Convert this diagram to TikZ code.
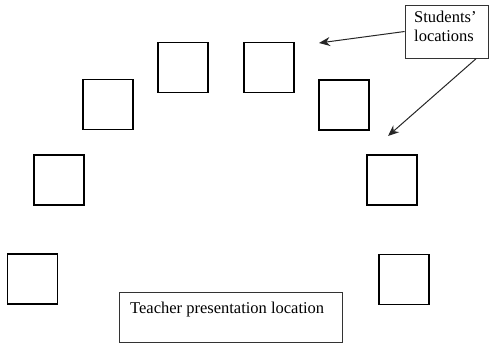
\documentclass[tikz,border=0pt]{standalone}
\usepackage{fontspec}
\setmainfont{Liberation Serif}
\usetikzlibrary{arrows.meta,calc}
\begin{document}
\begin{tikzpicture}[x=1pt,y=-1pt,
  seat/.style={draw=black,line width=1.1pt,minimum width=50pt,minimum height=50pt,inner sep=0pt},
  labelbox/.style={draw=black!80,line width=0.8pt,inner sep=0pt},
  pointer/.style={draw=black!85,line width=1pt,-{Stealth[length=11pt,width=9pt]}},
  lbl/.style={font=\fontsize{16.5}{18.5}\selectfont,inner sep=0pt,align=left}]
\useasboundingbox (0,0) rectangle (490,343);
% student seats
\node[seat] (sA) at (183,67.5) {};
\node[seat] (sB) at (269,67.5) {};
\node[seat] (sC) at (108,104.5) {};
\node[seat] (sD) at (344,105) {};
\node[seat] (sE) at (59,180) {};
\node[seat] (sF) at (392,180) {};
\node[seat] (sG) at (32.5,279) {};
\node[seat] (sH) at (404,279.5) {};
% teacher box
\node[labelbox,minimum width=223pt,minimum height=50pt] (tb) at (230.5,317) {};
\node[lbl,anchor=base west] (tt) at (130,313) {Teacher presentation location};
% students label box
\node[labelbox,minimum width=83pt,minimum height=53pt] (sb) at (446.5,31.5) {};
\node[lbl,anchor=north west] (st) at (414,11) {Students’\\locations};
% pointers
\coordinate (p1) at (319,43);
\coordinate (p2) at (388,136);
\draw[pointer] (sb.west) -- (p1);
\draw[pointer] ($(sb.south east)+(-12,0)$) -- (p2);
\end{tikzpicture}
\end{document}
